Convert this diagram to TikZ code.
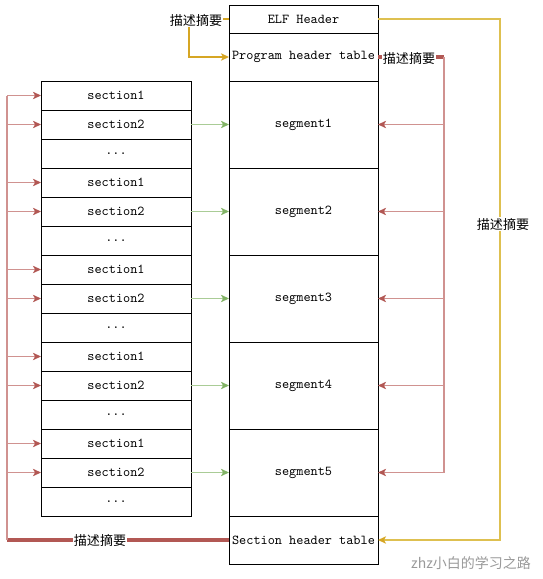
\documentclass[tikz,border=0pt]{standalone}
\usepackage{fontspec}
\newfontfamily\cjk{Noto Sans CJK SC}
\usepackage{tikz}
\usetikzlibrary{arrows.meta,positioning}
\definecolor{rline}{RGB}{208,146,144}
\definecolor{rdark}{RGB}{178,88,84}
\definecolor{gline}{RGB}{170,204,150}
\definecolor{gdark}{RGB}{130,179,102}
\definecolor{yline}{RGB}{222,192,80}
\definecolor{gold}{RGB}{214,166,36}
\tikzstyle{rbox} = [draw, line width=0.75pt, minimum width=111.75pt, inner sep=0pt,
    outer sep=0pt, font=\ttfamily\fontsize{10.2}{12}\selectfont]
\tikzstyle{lbox} = [draw, line width=0.75pt, minimum width=112.5pt, minimum height=21.75pt,
    inner sep=0pt, outer sep=0pt, font=\ttfamily\fontsize{10.2}{12}\selectfont]
\tikzstyle{lbl} = [fill=white, inner sep=0.5pt, font=\cjk\fontsize{9.8}{11}\selectfont]
\tikzstyle{pnkarrow} = [rline, line width=1.4pt, -{Stealth[length=6pt,width=5.5pt,inset=1.5pt,color=rdark]}]
\tikzstyle{grnarrow} = [gline, line width=1.4pt, -{Stealth[length=6pt,width=5.5pt,inset=1.5pt,color=gdark]}]

\begin{document}
\begin{tikzpicture}[x=0.75pt, y=-0.75pt]
  \useasboundingbox (0,0) rectangle (543,579);
  % right column
  \node [rbox, minimum height=21pt] (elf) at (303.5,19) {ELF Header};
  \node [rbox, minimum height=36pt, below=0pt of elf, alias=seg0] (phdr) {Program header table};
  \foreach \i [remember=\i as \j (initially 0)] in {1,...,5}
    \node [rbox, minimum height=65.25pt, below=0pt of seg\j] (seg\i) {segment\i};
  \node [rbox, minimum height=36pt, below=0pt of seg5] (shdr) {Section header table};
  % left column
  \foreach \g in {1,...,5}
    \foreach \r/\t in {1/section1,2/section2,3/{...}}
      \node [lbox] (sec-\g-\r) at (116,{95.5+29*(3*\g+\r-4)}) {\t};
  % section2 -> segment
  \foreach \g in {1,...,5}
    \draw [grnarrow] (sec-\g-2.east) -- (seg\g.west);
  % elf -> program header table
  \draw [gold, line width=1.3pt, -{Stealth[length=6pt,width=5.5pt,inset=1.5pt]}]
    (elf.west) -- ++(-40,0) |- (phdr.west);
  \node [lbl] (d1) at (196,20) {描述摘要};
  % elf -> section header table
  \coordinate (ybus) at (500,19);
  \draw [yline, line width=1.3pt, -{Stealth[length=6pt,width=5.5pt,inset=1.5pt,color=gold]}]
    (elf.east) -- (ybus |- elf.east) -- (ybus |- shdr.east) -- (shdr.east);
  \node [lbl] (d2) at (503,224) {描述摘要};
  % program header table -> segments
  \coordinate (rx) at (444,0);
  \coordinate (rbus) at (phdr.east -| rx);
  \draw [rdark, line width=2.4pt] (phdr.east) -- (rbus);
  \draw [rline, line width=1.4pt] (rbus) -- (rbus |- seg5.east);
  \foreach \i in {1,...,5}
    \draw [pnkarrow] (rbus |- seg\i.east) -- (seg\i.east);
  \node [lbl] (d3) at (409,58) {描述摘要};
  % section header table -> sections
  \coordinate (lx) at (7,0);
  \coordinate (lbus) at (shdr.west -| lx);
  \draw [rdark, line width=2.4pt] (shdr.west) -- (lbus);
  \draw [rline, line width=1.4pt] (lbus) -- (lbus |- sec-1-1.west);
  \foreach \g in {1,...,5}
    \foreach \r in {1,2}
      \draw [pnkarrow] (lbus |- sec-\g-\r.west) -- (sec-\g-\r.west);
  \node [lbl] (d4) at (100,540) {描述摘要};
  % watermark
  \node [font=\cjk\fontsize{10.5}{12}\selectfont, text=black!40] (wm) at (471,563) {zhz小白的学习之路};
\end{tikzpicture}
\end{document}
